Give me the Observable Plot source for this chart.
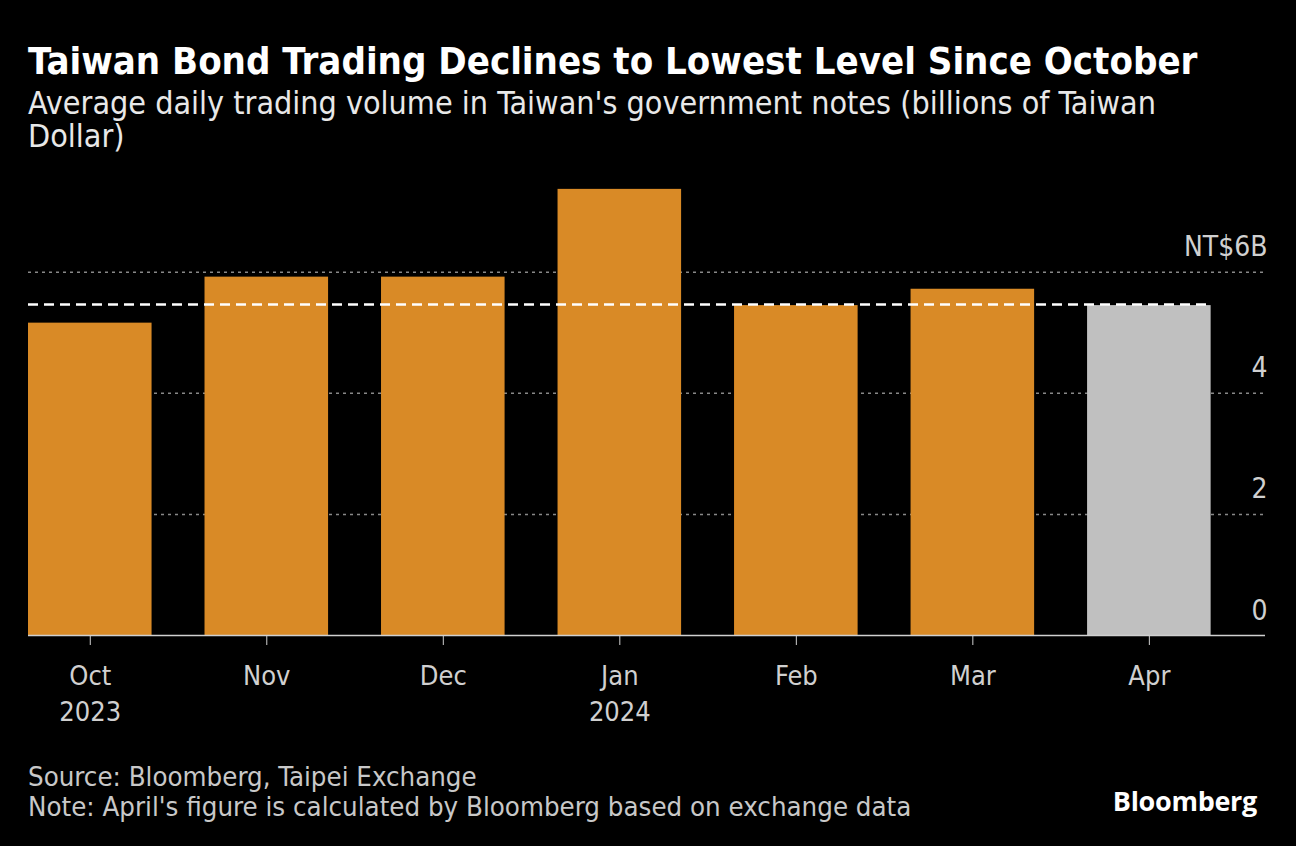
<!DOCTYPE html>
<html><head><meta charset="utf-8">
<script src="https://cdn.jsdelivr.net/npm/d3@7"></script>
<script src="https://cdn.jsdelivr.net/npm/@observablehq/plot@0.6"></script>
<style>
body{margin:0;background:#000;width:1296px;height:846px;overflow:hidden;position:relative;font-family:"DejaVu Sans Condensed","DejaVu Sans",sans-serif;}
#title{position:absolute;left:28px;top:39px;font-size:38px;font-weight:bold;color:#fff;line-height:44px;white-space:nowrap;}
#subtitle{position:absolute;left:28px;top:87px;font-size:32px;color:#e8e8e8;line-height:33px;white-space:nowrap;}
#chart{position:absolute;left:0;top:170px;}
#footer{position:absolute;left:28px;top:762px;font-size:27.4px;color:#c8c8c8;line-height:30px;white-space:nowrap;}
#logo{position:absolute;right:39px;top:785px;font-size:27px;font-weight:bold;color:#fff;line-height:32px;font-family:"Open Sans","Lato",sans-serif;letter-spacing:-0.3px;}
</style>
</head><body>
<div id="title">Taiwan Bond Trading Declines to Lowest Level Since October</div>
<div id="subtitle">Average daily trading volume in Taiwan's government notes (billions of Taiwan<br>Dollar)</div>
<div id="chart"></div>
<div id="footer">Source: Bloomberg, Taipei Exchange<br>Note: April's figure is calculated by Bloomberg based on exchange data</div>
<div id="logo">Bloomberg</div>
<script>
const months = ["Oct","Nov","Dec","Jan","Feb","Mar","Apr"];
const yearLabels = ["2023","","","2024","","",""];
const volumes = [5.16,5.92,5.92,7.37,5.45,5.72,5.45];
const isEstimate = [false,false,false,false,false,false,true];
const currentLevel = 5.47;
const yTicks = [0,2,4,6];
const yTickLabels = ["0","2","4","NT$6B"];

const data = months.map((m,i)=>({month:m, year:yearLabels[i], value:volumes[i], est:isEstimate[i]}));
const refLine = [{level:currentLevel, from:months[0], to:months[months.length-1]}];
const font = '"DejaVu Sans Condensed","DejaVu Sans",sans-serif';

const chart = Plot.plot({
  width:1296, height:580,
  marginLeft:28, marginRight:31, marginTop:11, marginBottom:115,
  style:{background:"transparent", color:"#d0d0d0", fontFamily:font},
  x:{domain:months, paddingInner:0.3, paddingOuter:0.154, align:0, round:false, axis:null},
  y:{domain:[0,7.5], axis:null},
  color:{domain:[false,true], range:["#d98a26","#c0c0c0"]},
  marks:[
    Plot.ruleY(yTicks.filter(d=>d>0), {stroke:"#888888", strokeWidth:1.5, strokeDasharray:"3,4"}),
    Plot.barY(data, {x:"month", y:"value", fill:"est"}),
    Plot.ruleY([0], {stroke:"#d0d0d0", strokeWidth:1.5}),
    Plot.ruleY(refLine, {y:"level", x1:"from", x2:"to", stroke:"#fff", strokeWidth:2.5, strokeDasharray:"10,6"}),
    Plot.axisX({tickSize:10, tickPadding:15, fontSize:27, lineHeight:1.3, stroke:"#d0d0d0", fill:"#d0d0d0",
      tickFormat:(m)=>{const y = yearLabels[months.indexOf(m)]; return y ? m+"\n"+y : m;}}),
    Plot.text(yTicks, {y:d=>d, text:(d,i)=>yTickLabels[i], frameAnchor:"right", textAnchor:"end", lineAnchor:"bottom", dx:2, dy:-16, fontSize:28, fill:"#d0d0d0"})
  ]
});
document.getElementById("chart").appendChild(chart);
</script>
</body></html>
